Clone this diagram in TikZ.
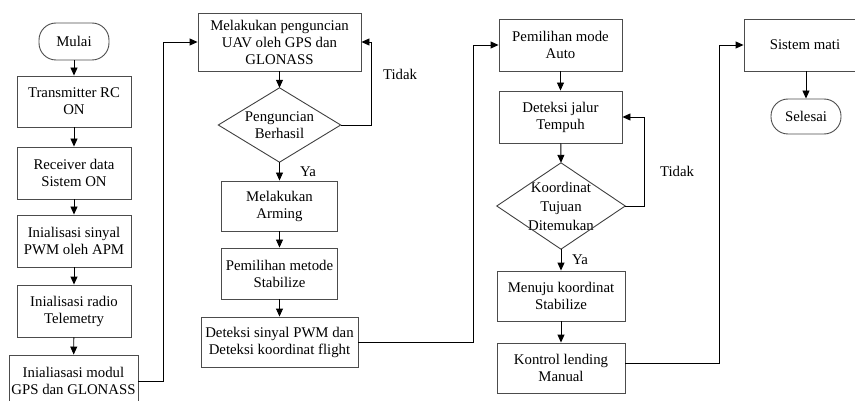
\documentclass[tikz,border=0pt]{standalone}
\usepackage{fontspec}
\setmainfont{Liberation Serif}
\usetikzlibrary{arrows.meta}
\begin{document}
\begin{tikzpicture}[x=1pt,y=-1pt,
  every node/.style={font=\fontsize{14.8}{17}\selectfont},
  box/.style={draw=black!70, line width=0.9pt, rectangle, inner sep=0pt, align=center},
  term/.style={draw=black!70, line width=0.9pt, rectangle, rounded corners=17pt, inner sep=0pt, align=center},
  dia/.style={rectangle, inner sep=0pt, align=center},
  diaedge/.style={draw=black!75, line width=0.9pt},
  arr/.style={draw=black, line width=0.9pt, -{Triangle[length=8pt,width=7pt]}},
  lbl/.style={inner sep=0pt}
]
\useasboundingbox (0,0) rectangle (855,401);
% column 1
\node[term, minimum width=70pt, minimum height=37pt] (mulai) at (74,41.5) {Mulai};
\node[box, minimum width=114pt, minimum height=51pt] (b1) at (74,101.5) {Transmitter RC\\ON};
\node[box, minimum width=114pt, minimum height=52pt] (b2) at (74,173) {Receiver data\\Sistem ON};
\node[box, minimum width=114pt, minimum height=52pt] (b3) at (74,241) {Inialisasi sinyal\\PWM oleh APM};
\node[box, minimum width=114pt, minimum height=52pt] (b4) at (74,311) {Inialisasi radio\\Telemetry};
\node[box, minimum width=129pt, minimum height=52pt] (b5) at (73.5,381) {Inialiasasi modul\\GPS dan GLONASS};
% column 2
\node[box, minimum width=163pt, minimum height=58pt] (c1) at (279.5,42) {Melakukan penguncian\\UAV oleh GPS dan\\GLONASS};
\node[dia, minimum width=122pt, minimum height=74pt] (d1) at (279.5,125) {Penguncian\\Berhasil};
\draw[diaedge] (d1.north) -- (d1.east) -- (d1.south) -- (d1.west) -- cycle;
\node[box, minimum width=116pt, minimum height=50pt] (c2) at (279.5,206) {Melakukan\\Arming};
\node[box, minimum width=116pt, minimum height=51pt] (c3) at (279.5,273.5) {Pemilihan metode\\Stabilize};
\node[box, minimum width=157pt, minimum height=50pt] (c4) at (279.5,342) {Deteksi sinyal PWM dan\\Deteksi koordinat flight};
\node[lbl] (t1) at (400,74) {Tidak};
\node[lbl] (y1) at (308,172) {Ya};
% column 3
\node[box, minimum width=123pt, minimum height=52pt] (e1) at (560.5,45) {Pemilihan mode\\Auto};
\node[box, minimum width=123pt, minimum height=52pt] (e2) at (560.5,117) {Deteksi jalur\\Tempuh};
\node[dia, minimum width=128pt, minimum height=86pt, font=\fontsize{14.8}{19}\selectfont] (d2) at (561,206) {Koordinat\\Tujuan\\Ditemukan};
\draw[diaedge] (d2.north) -- (d2.east) -- (d2.south) -- (d2.west) -- cycle;
\node[box, minimum width=128pt, minimum height=50pt] (e3) at (561,296) {Menuju koordinat\\Stabilize};
\node[box, minimum width=128pt, minimum height=50pt] (e4) at (561,368) {Kontrol lending\\Manual};
\node[lbl] (t2) at (677,171) {Tidak};
\node[lbl] (y2) at (580,260) {Ya};
% column 4
\node[box, minimum width=122pt, minimum height=52pt] (f1) at (805,45) {Sistem mati};
\node[term, minimum width=70pt, minimum height=35pt] (f2) at (806,116.5) {Selesai};
% connectors
\draw[arr] (mulai) -- (b1);
\draw[arr] (b1) -- (b2);
\draw[arr] (b2) -- (b3);
\draw[arr] (b3) -- (b4);
\draw[arr] (b4) -- (b5);
\draw[arr] (b5.east) -- ++(25,0) |- (c1.west);
\draw[arr] (c1) -- (d1.north);
\draw[arr] (d1.east) -- ++(31,0) |- (c1.east);
\draw[arr] (d1.south) -- (c2);
\draw[arr] (c2) -- (c3);
\draw[arr] (c3) -- (c4);
\draw[arr] (c4.east) -- ++(115,0) |- (e1.west);
\draw[arr] (e1) -- (e2);
\draw[arr] (e2) -- (d2.north);
\draw[arr] (d2.east) -- ++(19,0) |- (e2.east);
\draw[arr] (d2.south) -- (e3);
\draw[arr] (e3) -- (e4);
\draw[arr] ([yshift=5pt]e4.east) -- ++(94,0) |- (f1.west);
\draw[arr] (f1.south -| f2.north) -- (f2.north);
\end{tikzpicture}
\end{document}
